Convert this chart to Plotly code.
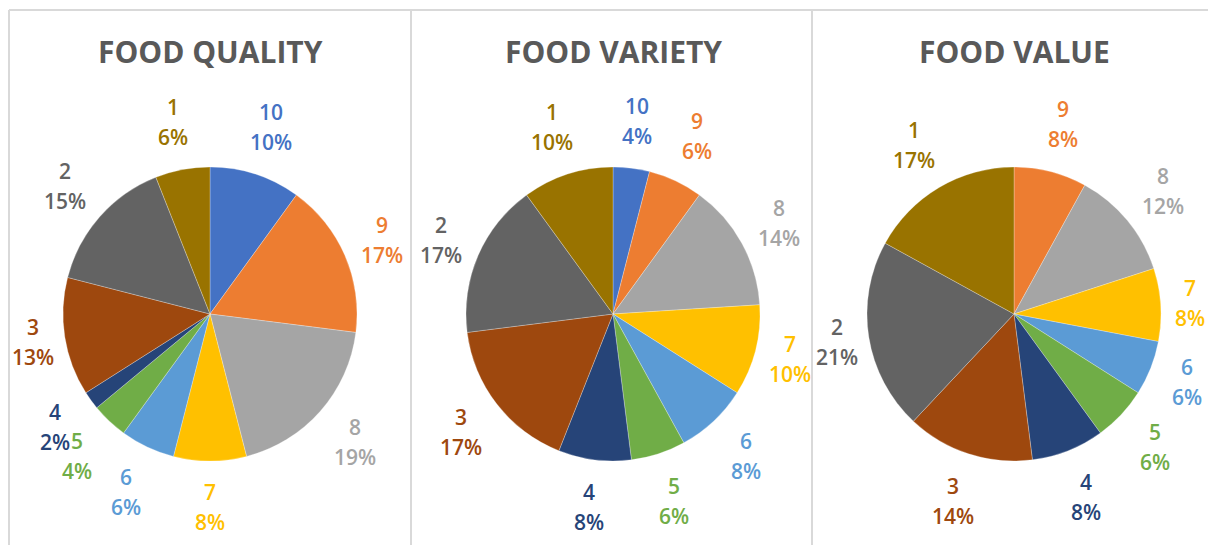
import math
import plotly.graph_objects as go

categories = ["10", "9", "8", "7", "6", "5", "4", "3", "2", "1"]
quality_pct = [10, 17, 19, 8, 6, 4, 2, 13, 15, 6]
variety_pct = [4, 6, 14, 10, 8, 6, 8, 17, 17, 10]
value_pct = [0, 8, 12, 8, 6, 6, 8, 14, 21, 17]
titles = ["FOOD QUALITY", "FOOD VARIETY", "FOOD VALUE"]
colors = ["#4472C4", "#ED7D31", "#A5A5A5", "#FFC000", "#5B9BD5",
          "#70AD47", "#264478", "#9E480E", "#636363", "#997300"]

W, H = 1208, 545
centers_x = [210, 613, 1014]
center_y = 314
radius = 147


def px(X):
    return X / W


def py(Y):
    return 1 - Y / H


fig = go.Figure()
for vals, cx in zip([quality_pct, variety_pct, value_pct], centers_x):
    labs = [c for c, v in zip(categories, vals) if v > 0]
    cols = [col for col, v in zip(colors, vals) if v > 0]
    vs = [v for v in vals if v > 0]
    fig.add_trace(go.Pie(
        labels=labs, values=vs, sort=False, direction="clockwise", rotation=0,
        marker=dict(colors=cols, line=dict(color="rgba(255,255,255,0.45)", width=0.6)),
        textinfo="none", automargin=False,
        domain=dict(x=[px(cx - radius), px(cx + radius)],
                    y=[py(center_y + radius), py(center_y - radius)]),
        showlegend=False, hoverinfo="label+percent",
    ))
    # outside-end data labels, placed from the slice mid-angles
    total = sum(vs)
    cum = 0
    for lab, v, col in zip(labs, vs, cols):
        mid = (cum + v / 2) / total * 2 * math.pi
        cum += v
        ux, uy = math.sin(mid), math.cos(mid)
        d = radius + 10 + 17 * abs(ux) + 36 * abs(uy)
        X = cx + d * ux
        Y = center_y - d * uy
        pct = f"{round(v / total * 100)}%"
        for txt, ys in [(lab, 15), (pct, -15)]:
            fig.add_annotation(text=txt, x=px(X), y=py(Y), xref="paper", yref="paper",
                               xanchor="center", yanchor="middle", yshift=ys, showarrow=False,
                               font=dict(family="Open Sans", size=21, color=col, weight=600))

for t, cx in zip(titles, centers_x):
    fig.add_annotation(text=t, x=px(cx), y=py(51), xref="paper", yref="paper",
                       xanchor="center", yanchor="middle", showarrow=False,
                       font=dict(family="Open Sans", size=30, color="#595959", weight=700))

line_col = "#D9D9D9"
fig.add_shape(type="line", xref="paper", yref="paper", x0=px(9), x1=1, y0=py(10), y1=py(10),
              line=dict(color=line_col, width=2))
for xv in [9, 411, 812]:
    fig.add_shape(type="line", xref="paper", yref="paper", x0=px(xv), x1=px(xv), y0=0, y1=py(10),
                  line=dict(color=line_col, width=2))

fig.update_layout(width=W, height=H, margin=dict(l=0, r=0, t=0, b=0),
                  paper_bgcolor="white", plot_bgcolor="white")
fig.write_html("out.html", config={"displayModeBar": False},
               post_script="document.body.style.margin='0';document.body.style.overflow='hidden';")
